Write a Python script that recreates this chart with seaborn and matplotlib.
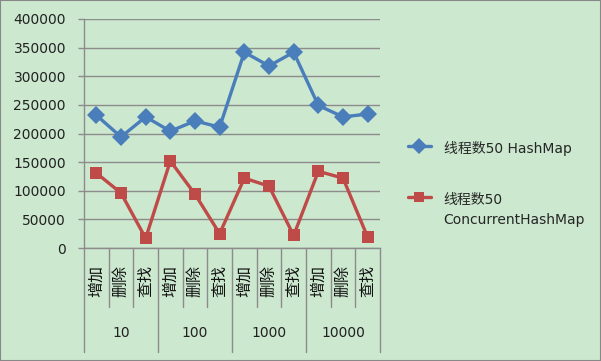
import numpy as np
import pandas as pd
import matplotlib
matplotlib.use("Agg")
import matplotlib.pyplot as plt
import matplotlib.transforms as mtransforms
from matplotlib.patches import Rectangle
import seaborn as sns

ops = ["增加", "删除", "查找"]
groups = ["10", "100", "1000", "10000"]
series_names = ["线程数50 HashMap", "线程数50\nConcurrentHashMap"]
hashmap = [232000, 194000, 229000, 204000, 222000, 211000,
           342000, 318000, 342000, 249000, 229000, 234000]
concurrent = [131000, 96000, 17000, 152000, 94000, 25000,
              122000, 108000, 22000, 134000, 122000, 19000]
yticks = [0, 50000, 100000, 150000, 200000, 250000, 300000, 350000, 400000]

BG = "#cce8cf"
BLUE = "#4a7ebb"
RED = "#be4b48"
GRID = "#8c8c8c"

sns.set_style("white")
plt.rcParams["font.family"] = ["DejaVu Sans", "Noto Sans CJK SC"]

n = len(hashmap)
pos = np.arange(n)
df = pd.DataFrame({
    "x": np.concatenate([pos, pos]),
    "value": hashmap + concurrent,
    "series": [series_names[0]] * n + [series_names[1]] * n,
})

fig = plt.figure(figsize=(6.01, 3.61), dpi=100, facecolor=BG)
ax = fig.add_axes([84 / 601, 1 - 248 / 361, 296 / 601, 229 / 361])
ax.set_facecolor(BG)

sns.lineplot(data=df, x="x", y="value", hue="series", style="series",
             palette=[BLUE, RED], markers=["D", "s"], dashes=False,
             linewidth=2.4, markersize=9, markeredgewidth=0, ax=ax)

ax.set_xlim(-0.5, n - 0.5)
ax.set_ylim(0, 400000)
ax.set_yticks(yticks)
ax.set_yticklabels([str(v) for v in yticks], fontsize=10, color="#222222")
ax.yaxis.grid(True, color=GRID, linewidth=1)
ax.set_axisbelow(True)
ax.tick_params(axis="y", length=4, width=1, color=GRID, pad=9, left=True)
ax.set_xticks([])
ax.set_xlabel("")
ax.set_ylabel("")
for s in ["top", "right"]:
    ax.spines[s].set_visible(False)
for s in ["left", "bottom"]:
    ax.spines[s].set_color(GRID)
    ax.spines[s].set_linewidth(1)

trans = mtransforms.blended_transform_factory(ax.transData, fig.transFigure)
y_axis = 1 - 248 / 361
y_minor = 1 - 307 / 361
y_major = 1 - 352 / 361
for k in range(n + 1):
    xb = k - 0.5
    y_end = y_major if k % 3 == 0 else y_minor
    ax.plot([xb, xb], [y_axis, y_end], color=GRID, linewidth=1,
            transform=trans, clip_on=False)

for i in range(n):
    ax.text(i, 1 - 281 / 361, ops[i % 3], rotation=90, transform=trans,
            ha="center", va="center", fontsize=11.5, color="#111111")
for g, name in enumerate(groups):
    ax.text(g * 3 + 1, 1 - 333 / 361, name, transform=trans,
            ha="center", va="center", fontsize=10, color="#222222")

sns.move_legend(ax, loc="upper left", bbox_to_anchor=(395 / 601, 1 - 129 / 361),
                bbox_transform=fig.transFigure, frameon=False, title=None,
                fontsize=10, labelspacing=2.6, handlelength=1.7,
                handletextpad=0.9, markerscale=0.85)
leg = ax.get_legend()
for t in leg.get_texts():
    t.set_linespacing(1.6)
for col in leg._legend_handle_box.get_children():
    for item in col.get_children():
        item.align = "top"

fig.patches.append(Rectangle((0, 0), 1, 1, transform=fig.transFigure,
                             fill=False, edgecolor="#888888", linewidth=1.5))

fig.savefig("out.png", dpi=100, facecolor=BG)
